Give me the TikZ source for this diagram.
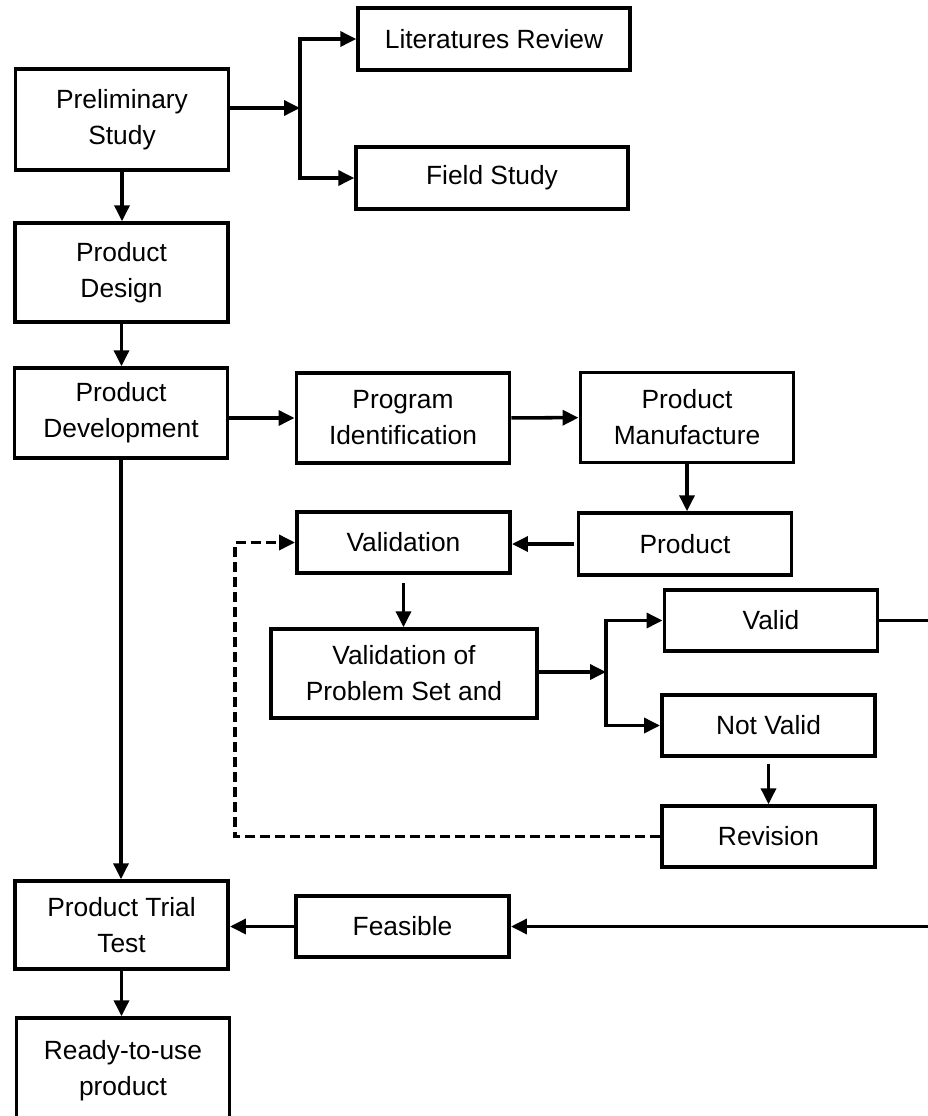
\documentclass[tikz,border=0pt]{standalone}
\usepackage{fontspec}
\setmainfont{Liberation Sans}
\usetikzlibrary{arrows.meta}
\tikzset{
  box/.style={draw, line width=2pt, align=center, inner sep=0pt,
    minimum width=4.27cm, font=\fontsize{15}{20.5}\selectfont},
  link/.style={line width=2pt, -{Triangle[length=0.32cm,width=0.3cm]}},
  back/.style={link, dash pattern=on 0.2cm off 0.1cm},
}

\begin{document}
\begin{tikzpicture}[x=0.02cm, y=-0.02cm]
  \useasboundingbox (0,0) rectangle (928,1116);

  % Main Column
  \node[box, minimum height=2.02cm] (m1) at (122,119.5) {Preliminary\\Study};
  \node[box, minimum height=1.98cm] (m2) at (121.5,272.5) {Product\\Design};
  \node[box, minimum height=1.8cm]  (m3) at (121,413) {Product\\Development};
  \node[box, minimum height=1.76cm] (m4) at (121.5,925) {Product Trial\\Test};
  \node[box, minimum height=2.12cm] (m5) at (123,1071) {Ready-to-use\\product};

  % Study Branches
  \node[box, minimum width=5.44cm, minimum height=1.24cm] (t1) at (494,39) {Literatures Review};
  \node[box, minimum width=5.44cm, minimum height=1.24cm] (t2) at (492,178) {Field Study};

  % Production Row
  \node[box, minimum height=1.8cm]  (p1) at (403,418) {Program\\Identification};
  \node[box, minimum height=1.8cm]  (p2) at (687,417.5) {Product\\Manufacture};
  \node[box, minimum height=1.24cm] (p3) at (685,544) {Product};

  % Validation Loop
  \node[box, minimum height=1.22cm] (v1) at (403.5,542.5) {Validation};
  \node[box, minimum width=5.32cm, minimum height=1.78cm] (v2) at (404,673.5) {Validation of\\Problem Set and};
  \node[box, minimum height=1.22cm] (v3) at (771,620.5) {Valid};
  \node[box, minimum height=1.22cm] (v4) at (768.5,725.5) {Not Valid};
  \node[box, minimum height=1.22cm] (v5) at (768.5,836.5) {Revision};
  \node[box, minimum height=1.22cm] (f)  at (402.5,926.5) {Feasible};

  \coordinate (j1) at (300,108);
  \coordinate (j2) at (606,672);
  \coordinate (j3) at (960,620.5);
  \coordinate (j4) at (235,700);

  \draw[link] (m1.east |- j1) -- (j1);
  \draw[link] (j1) |- (t1.west);
  \draw[link] (j1) |- (t2.west);
  \draw[link] (m1.south) -- (m1.south |- m2.north);
  \draw[link] (m2.south) -- (m2.south |- m3.north);
  \draw[link] (m3.east |- p1) -- (p1.west);
  \draw[link] (p1) -- (p2);
  \draw[link] (p2.south) -- (p2.south |- p3.north);
  \draw[link, shorten <=0.06cm] (p3.west) -- (p3.west -| v1.east);
  \draw[link, shorten <=0.16cm] (v1.south) -- (v1.south |- v2.north);
  \draw[link] (v2.east |- j2) -- (j2);
  \draw[link] (j2) |- (v3.west);
  \draw[link] (j2) |- (v4.west);
  \draw[link, shorten <=0.12cm] (v4.south) -- (v4.south |- v5.north);
  \draw[back] (v5.west) -| (j4) |- (v1.west);
  \draw[link] (v3.east) -- (j3) |- (f.east);
  \draw[link] (f.west) -- (f.west -| m4.east);
  \draw[link] (m3.south) -- (m3.south |- m4.north);
  \draw[link] (m4.south) -- (m4.south |- m5.north);
\end{tikzpicture}
\end{document}
